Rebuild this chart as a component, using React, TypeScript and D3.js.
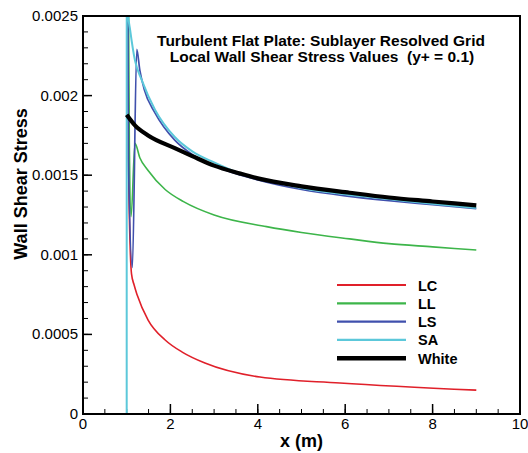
import * as d3 from 'd3'

const W = 528, H = 453
const M = { left: 83, right: 8, top: 16, bottom: 39 }

// ── data ────────────────────────────────────────────────────────────────
const LC_X = [1.001, 1.04, 1.11, 1.17, 1.24, 1.49, 1.88, 2.27, 2.79, 4.05, 5.88, 9]
const LC_Y = [0.0045, 0.0016, 0.00088, 0.00081, 0.000747, 0.00059, 0.000465, 0.000389, 0.00032, 0.000232, 0.000195, 0.00015]

const LL_X = [1.001, 1.06, 1.1, 1.19, 1.3, 1.49, 1.88, 2.3, 3, 4.2, 5, 6.1, 7, 8, 9]
const LL_Y = [0.0045, 0.0017, 0.00124, 0.0017, 0.00161, 0.00153, 0.00141, 0.001334, 0.00125, 0.001177, 0.00114, 0.0011, 0.00107, 0.00105, 0.00103]

const LS_X = [1.001, 1.04, 1.13, 1.23, 1.3, 1.4, 1.65, 2.1, 2.5, 3, 4, 5, 6, 7, 8, 9]
const LS_Y = [0.0045, 0.0016, 0.00092, 0.00229, 0.00216, 0.00204, 0.00189, 0.00172, 0.00163, 0.00156, 0.00147, 0.00141, 0.00137, 0.00134, 0.001315, 0.00129]

const SA_X = [1.0, 1.001, 1.03, 1.08, 1.19, 1.34, 1.65, 2.1, 2.5, 3, 3.6, 4, 5, 6, 7, 8, 9]
const SA_Y = [0, 0.0045, 0.00252, 0.00241, 0.00222, 0.0021, 0.00191, 0.00174, 0.00165, 0.00158, 0.00151, 0.00148, 0.00142, 0.00138, 0.00135, 0.00132, 0.001295]

const WH_X = [1.0, 1.2, 1.49, 2.1, 2.5, 3, 3.6, 4, 5, 6.1, 7, 8, 9]
const WH_Y = [0.00188, 0.00181, 0.00175, 0.00167, 0.00162, 0.00156, 0.00151, 0.00148, 0.00143, 0.00139, 0.00136, 0.001335, 0.00131]

const X_TICKS = [0, 2, 4, 6, 8, 10]
const X_LABELS = ['0', '2', '4', '6', '8', '10']
const Y_TICKS = [0, 0.0005, 0.001, 0.0015, 0.002, 0.0025]
const Y_LABELS = ['0', '0.0005', '0.001', '0.0015', '0.002', '0.0025']

const SERIES = [
  { label: 'LC', xs: LC_X, ys: LC_Y, color: '#e0202a', width: 1.6 },
  { label: 'LL', xs: LL_X, ys: LL_Y, color: '#3db54a', width: 1.6 },
  { label: 'LS', xs: LS_X, ys: LS_Y, color: '#4050ad', width: 1.7 },
  { label: 'SA', xs: SA_X, ys: SA_Y, color: '#5cc8da', width: 2 },
  { label: 'White', xs: WH_X, ys: WH_Y, color: '#000000', width: 4.2 },
]

const FONT = '"Liberation Sans", Arial, Helvetica, sans-serif'

export default function App() {
  const x0 = M.left, x1 = W - M.right
  const y0 = H - M.bottom, y1 = M.top
  const xScale = d3.scaleLinear().domain([0, 10]).range([x0, x1])
  const yScale = d3.scaleLinear().domain([0, 0.0025]).range([y0, y1])

  const line = d3.line<[number, number]>()
    .x(d => xScale(d[0])).y(d => yScale(d[1]))
    .curve(d3.curveMonotoneX)

  const xMinor = xScale.ticks(20)
  const yMinor = yScale.ticks(25)

  return (
    <svg width={W} height={H} style={{ position: 'absolute', left: 0, top: 0, background: '#fff' }}
      fontFamily={FONT}>
      <defs>
        <clipPath id="plot">
          <rect x={x0} y={y1} width={x1 - x0} height={y0 - y1} />
        </clipPath>
      </defs>

      {/* minor ticks */}
      {xMinor.map((t, i) => (
        <line key={'xm' + i} x1={xScale(t)} x2={xScale(t)} y1={y0} y2={y0 - 5} stroke="#000" strokeWidth={1} />
      ))}
      {yMinor.map((t, i) => (
        <line key={'ym' + i} x1={x0} x2={x0 + 5} y1={yScale(t)} y2={yScale(t)} stroke="#000" strokeWidth={1} />
      ))}
      {/* major ticks */}
      {X_TICKS.map((t, i) => (
        <g key={'xt' + i}>
          <line x1={xScale(t)} x2={xScale(t)} y1={y0} y2={y0 - 10} stroke="#000" strokeWidth={1.5} />
          <text x={xScale(t)} y={y0 + 15} textAnchor="middle" fontSize={15}>{X_LABELS[i]}</text>
        </g>
      ))}
      {Y_TICKS.map((t, i) => (
        <g key={'yt' + i}>
          <line x1={x0} x2={x0 + 9} y1={yScale(t)} y2={yScale(t)} stroke="#000" strokeWidth={1.5} />
          <text x={x0 - 5} y={yScale(t) + 5} textAnchor="end" fontSize={15}>{Y_LABELS[i]}</text>
        </g>
      ))}

      {/* curves */}
      <g clipPath="url(#plot)">
        {SERIES.map(s => (
          <path key={s.label}
            d={line(s.xs.map((x, i) => [x, s.ys[i]] as [number, number])) ?? ''}
            fill="none" stroke={s.color} strokeWidth={s.width} strokeLinejoin="round" />
        ))}
      </g>

      {/* frame */}
      <rect x={x0} y={y1} width={x1 - x0} height={y0 - y1} fill="none" stroke="#000" strokeWidth={2} />

      {/* title */}
      <text x={321} y={46} textAnchor="middle" fontSize={15.5} fontWeight="bold">
        Turbulent Flat Plate: Sublayer Resolved Grid
      </text>
      <text x={322} y={62} textAnchor="middle" fontSize={15.5} fontWeight="bold" style={{ whiteSpace: 'pre' }}>
        {'Local Wall Shear Stress Values  (y+ = 0.1)'}
      </text>

      {/* legend */}
      {SERIES.map((s, i) => (
        <g key={'lg' + s.label} transform={`translate(0,${285 + i * 18.3})`}>
          <line x1={337} x2={406} y1={0} y2={0} stroke={s.color} strokeWidth={s.label === 'White' ? 4.5 : 2.2} />
          <text x={418} y={5.5} fontSize={14.5} fontWeight="bold">{s.label}</text>
        </g>
      ))}

      {/* axis titles */}
      <text x={(x0 + x1) / 2} y={447} textAnchor="middle" fontSize={18} fontWeight="bold">x (m)</text>
      <text transform={`translate(27,${184}) rotate(-90)`} textAnchor="middle" fontSize={18} fontWeight="bold">
        Wall Shear Stress
      </text>
    </svg>
  )
}
